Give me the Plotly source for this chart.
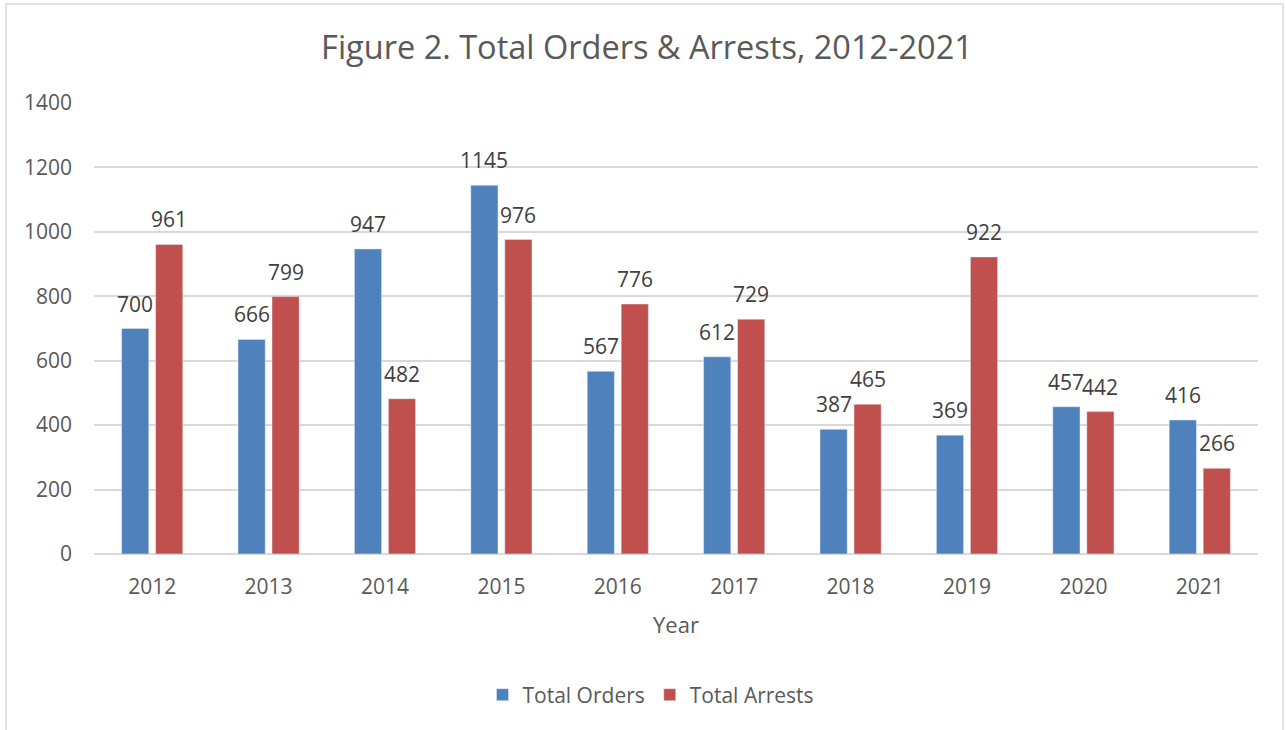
import plotly.graph_objects as go

years = ["2012", "2013", "2014", "2015", "2016", "2017", "2018", "2019", "2020", "2021"]
total_orders = [700, 666, 947, 1145, 567, 612, 387, 369, 457, 416]
total_arrests = [961, 799, 482, 976, 776, 729, 465, 922, 442, 266]

FONT = "Open Sans"
L, R, T, B = 94, 28, 103, 176
W, H = 1286, 730
pw, ph = W - L - R, H - T - B
BARGAP = 0.416
slot = (1 - BARGAP) / 2

fig = go.Figure()
fig.add_trace(go.Bar(x=years, y=total_orders, name="Total Orders", marker_color="#4F81BD"))
fig.add_trace(go.Bar(x=years, y=total_arrests, name="Total Arrests", marker_color="#C0504D"))

annotations = []
for series, off in ((total_orders, -slot / 2), (total_arrests, slot / 2)):
    for i, v in enumerate(series):
        annotations.append(dict(x=i + off, y=v, xref="x", yref="y", text=str(v), showarrow=False,
                                yanchor="bottom", xanchor="center", yshift=9,
                                font=dict(size=21, color="#404040", family=FONT)))

def px_x(x):
    return (x - L) / pw

def px_y(y):
    return (H - B - y) / ph

fig.update_layout(
    width=W, height=H,
    margin=dict(l=L, r=R, t=T, b=B),
    paper_bgcolor="white", plot_bgcolor="white",
    barmode="group", bargap=BARGAP, bargroupgap=0.2,
    font=dict(family=FONT, color="#595959", size=21),
    title=dict(text="Figure 2. Total Orders &amp; Arrests, 2012-2021", xref="container", x=647 / W,
               xanchor="center", y=1 - 48 / H, yanchor="middle",
               font=dict(size=32.5, color="#595959", family=FONT)),
    showlegend=True,
    legend=dict(orientation="h", x=px_x(651), xanchor="center", y=px_y(695), yanchor="middle",
                font=dict(size=21, color="#595959"), itemwidth=30, traceorder="normal"),
    xaxis=dict(showgrid=False, showline=False, ticks="", ticklabelstandoff=18,
               tickfont=dict(size=21, color="#595959"),
               title=dict(text="Year", font=dict(size=22, color="#595959"), standoff=18)),
    yaxis=dict(range=[0, 1400], dtick=200, showgrid=True, gridcolor="#D9D9D9", gridwidth=1.5,
               zeroline=True, zerolinecolor="#D9D9D9", zerolinewidth=2, showline=False,
               ticks="", ticklabelstandoff=21, tickfont=dict(size=21, color="#595959")),
    annotations=annotations,
    shapes=[dict(type="rect", xref="paper", yref="paper",
                 x0=px_x(6), x1=px_x(1283), y0=px_y(735), y1=px_y(4),
                 line=dict(color="#D9D9D9", width=1.5), fillcolor="rgba(0,0,0,0)", layer="below")],
)

fig.write_html("out.html", config={"displayModeBar": False},
               post_script="document.body.style.margin='0';document.body.style.overflow='hidden';")
